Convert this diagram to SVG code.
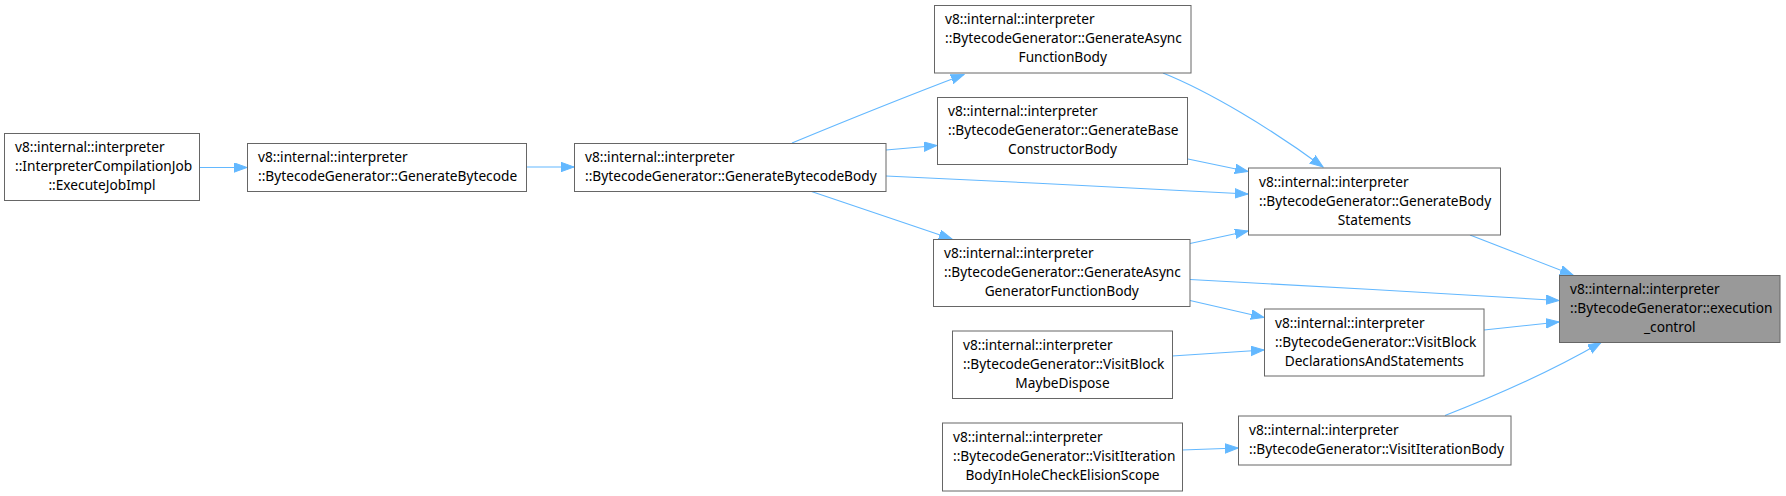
<svg xmlns="http://www.w3.org/2000/svg" width="1786" height="496" viewBox="0 0 1786 496">
<style>
.n rect{fill:#ffffff;stroke:#666666;stroke-width:1}
.n.hl rect{fill:#999999}
.n text{font-family:"Noto Sans","Open Sans","Liberation Sans",sans-serif;font-size:13.7px;fill:#000000}
.c{text-anchor:middle}
.e path{fill:none;stroke:#63b8ff;stroke-width:1.1}
</style>
<defs>
<marker id="ah" markerUnits="userSpaceOnUse" markerWidth="14" markerHeight="11" refX="13" refY="5" orient="auto">
<path d="M0,0.3 L13,5 L0,9.7 z" fill="#63b8ff" stroke="#63b8ff" stroke-width="1"/>
</marker>
</defs>
<g id="edges" class="e">
<path d="M199.5,167.5 L247,167.5" marker-end="url(#ah)"/>
<path d="M526.5,167 L574,167" marker-end="url(#ah)"/>
<path d="M792,143 C850,119 910,95 964,74.5" marker-end="url(#ah)"/>
<path d="M886,150 L937,145.5" marker-end="url(#ah)"/>
<path d="M886,176 C1000,181 1150,189 1248,194" marker-end="url(#ah)"/>
<path d="M810,191 L952,239" marker-end="url(#ah)"/>
<path d="M1163,73 C1210,92 1270,128 1323,167" marker-end="url(#ah)"/>
<path d="M1188,159 L1248,171.5" marker-end="url(#ah)"/>
<path d="M1190,243.5 L1248,231" marker-end="url(#ah)"/>
<path d="M1470,235 L1573,275" marker-end="url(#ah)"/>
<path d="M1190,279.5 C1300,285 1450,294 1559,300.5" marker-end="url(#ah)"/>
<path d="M1190,300.5 L1264,317.5" marker-end="url(#ah)"/>
<path d="M1172,356 L1264,350" marker-end="url(#ah)"/>
<path d="M1484,330 L1559,322" marker-end="url(#ah)"/>
<path d="M1445,415.5 C1490,398 1550,372 1601,342.5" marker-end="url(#ah)"/>
<path d="M1182,450 L1238,448" marker-end="url(#ah)"/>
</g>
<g id="nodeA" class="n">
<rect x="4.5" y="133.5" width="195" height="67"/>
<text x="15" y="152">v8::internal::interpreter</text>
<text x="15" y="171">::InterpreterCompilationJob</text>
<text x="102" y="190" class="c">::ExecuteJobImpl</text>
</g>
<g id="nodeB" class="n">
<rect x="247.5" y="143.5" width="279" height="48"/>
<text x="258" y="162">v8::internal::interpreter</text>
<text x="258" y="181">::BytecodeGenerator::GenerateBytecode</text>
</g>
<g id="nodeC" class="n">
<rect x="574.5" y="143.5" width="311.5" height="48"/>
<text x="585" y="162">v8::internal::interpreter</text>
<text x="585" y="181">::BytecodeGenerator::GenerateBytecodeBody</text>
</g>
<g id="nodeD" class="n">
<rect x="934.5" y="5.5" width="256.5" height="67.5"/>
<text x="945" y="24">v8::internal::interpreter</text>
<text x="945" y="43">::BytecodeGenerator::GenerateAsync</text>
<text x="1062.75" y="62" class="c">FunctionBody</text>
</g>
<g id="nodeE" class="n">
<rect x="937.5" y="97.5" width="250" height="67"/>
<text x="948" y="116">v8::internal::interpreter</text>
<text x="948" y="135">::BytecodeGenerator::GenerateBase</text>
<text x="1062.5" y="154" class="c">ConstructorBody</text>
</g>
<g id="nodeF" class="n">
<rect x="933.5" y="239.5" width="256.5" height="67"/>
<text x="944" y="258">v8::internal::interpreter</text>
<text x="944" y="277">::BytecodeGenerator::GenerateAsync</text>
<text x="1061.75" y="296" class="c">GeneratorFunctionBody</text>
</g>
<g id="nodeG" class="n">
<rect x="1248.5" y="168" width="252" height="67"/>
<text x="1259" y="186.5">v8::internal::interpreter</text>
<text x="1259" y="205.5">::BytecodeGenerator::GenerateBody</text>
<text x="1374.5" y="224.5" class="c">Statements</text>
</g>
<g id="nodeH" class="n hl">
<rect x="1559.5" y="275.5" width="220.5" height="67"/>
<text x="1570" y="294">v8::internal::interpreter</text>
<text x="1570" y="313">::BytecodeGenerator::execution</text>
<text x="1669.75" y="332" class="c">_control</text>
</g>
<g id="nodeI" class="n">
<rect x="1264.5" y="309" width="219.5" height="67"/>
<text x="1275" y="327.5">v8::internal::interpreter</text>
<text x="1275" y="346.5">::BytecodeGenerator::VisitBlock</text>
<text x="1374.25" y="365.5" class="c">DeclarationsAndStatements</text>
</g>
<g id="nodeJ" class="n">
<rect x="952.5" y="331" width="220" height="67.5"/>
<text x="963" y="349.5">v8::internal::interpreter</text>
<text x="963" y="368.5">::BytecodeGenerator::VisitBlock</text>
<text x="1062.5" y="387.5" class="c">MaybeDispose</text>
</g>
<g id="nodeK" class="n">
<rect x="942.5" y="423" width="240" height="68"/>
<text x="953" y="441.5">v8::internal::interpreter</text>
<text x="953" y="460.5">::BytecodeGenerator::VisitIteration</text>
<text x="1062.5" y="479.5" class="c">BodyInHoleCheckElisionScope</text>
</g>
<g id="nodeL" class="n">
<rect x="1238.5" y="416" width="272.5" height="49"/>
<text x="1249" y="434.5">v8::internal::interpreter</text>
<text x="1249" y="453.5">::BytecodeGenerator::VisitIterationBody</text>
</g>
</svg>
